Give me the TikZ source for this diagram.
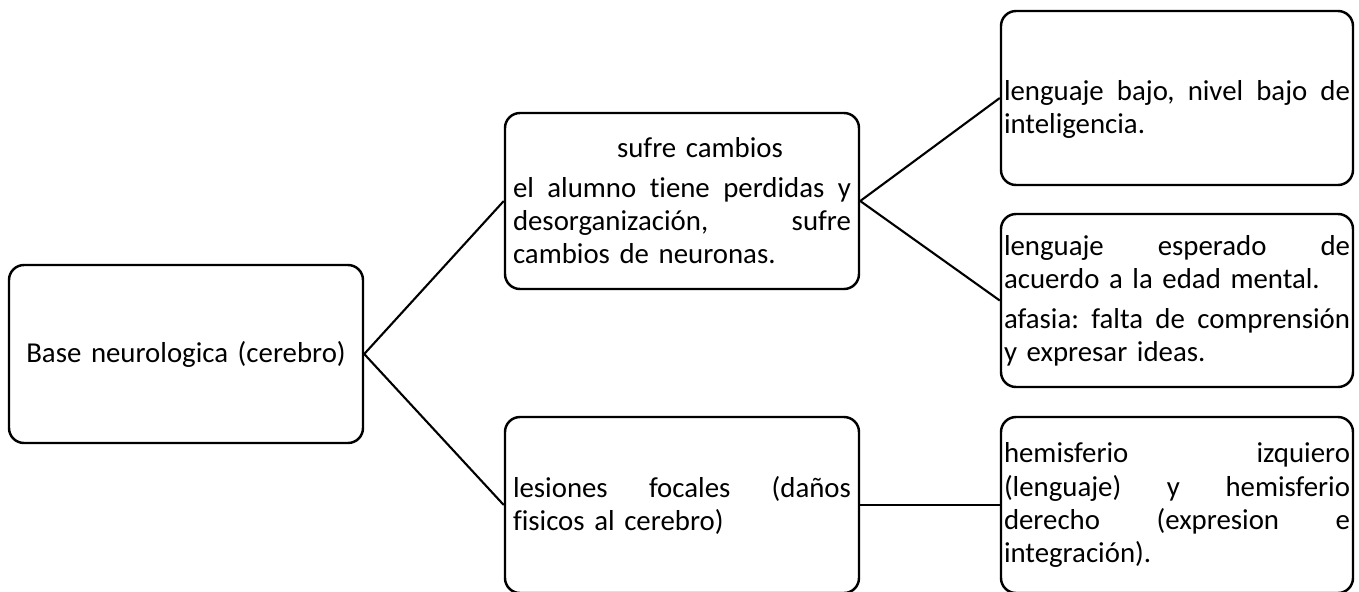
\documentclass[tikz,border=0pt]{standalone}
\usepackage{fontspec}
\setmainfont[Ligatures=NoCommon]{Carlito}
\usetikzlibrary{positioning}
\frenchspacing
% one justified line: words are spread with \hfill
\newcommand{\justline}[1]{\leavevmode\hbox to \hsize{#1}}

\begin{document}
\begin{tikzpicture}[
    box/.style={draw, line width=1.4pt, rounded corners=0.3cm,
        minimum height=3.52cm, inner ysep=0pt, anchor=center,
        font=\fontsize{16.4}{18.8}\selectfont, align=left},
    wide box/.style={box, text width=6.76cm, inner xsep=0.16cm},
    right box/.style={box, text width=6.92cm, inner xsep=0.06cm},
    link/.style={line width=1.2pt}
]
    \useasboundingbox (0,0) rectangle (27.18,-11.82);

    \node[wide box, align=center, minimum height=3.56cm] (base) at (3.72,-7.08)
        {Base neurologica (cerebro)};

    \node[wide box] (cambios) at (13.64,-4.02)
        {\makebox[\hsize]{\hspace{0.72cm}sufre cambios}\\[4pt]
         \justline{el \hfill alumno \hfill tiene \hfill perdidas \hfill y}\\
         \justline{desorganización, \hfill sufre}\\
         cambios de neuronas.};

    \node[wide box] (lesiones) at (13.64,-10.10)
        {\justline{lesiones \hfill focales \hfill (daños}\\
         fisicos al cerebro)};

    \node[right box, minimum height=3.48cm] (bajo) at (23.54,-1.96)
        {\vspace*{0.18cm}
         \justline{lenguaje \hfill bajo, \hfill nivel \hfill bajo \hfill de}\\
         inteligencia.};

    \node[right box, minimum height=3.46cm] (esperado) at (23.54,-6.01)
        {\justline{lenguaje \hfill esperado \hfill de}\\
         acuerdo a la edad mental.\\[4pt]
         \justline{afasia: \hfill falta \hfill de \hfill comprensión}\\
         y expresar ideas.};

    \node[right box] (hemisferio) at (23.54,-10.10)
        {\justline{hemisferio \hfill izquiero}\\
         \justline{(lenguaje) \hfill y \hfill hemisferio}\\
         \justline{derecho \hfill (expresion \hfill e}\\
         integración).};

    \draw[link] (cambios.west) -- (base.east) -- (lesiones.west);
    \draw[link] (bajo.west) -- (cambios.east) -- (esperado.west);
    \draw[link] (lesiones.east) -- (hemisferio.west);
\end{tikzpicture}
\end{document}
